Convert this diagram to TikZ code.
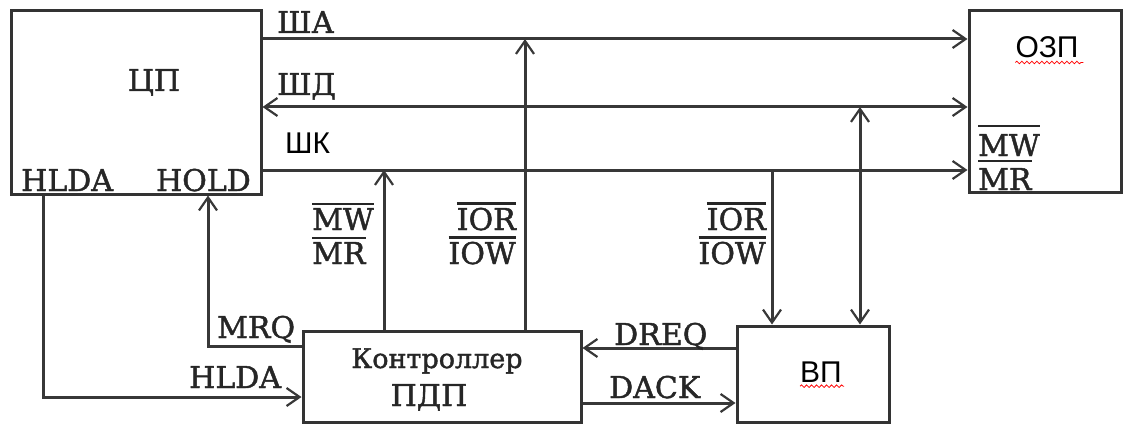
\documentclass[tikz,border=0pt]{standalone}
\usepackage{fontspec}
\setmainfont{DejaVu Serif}[FakeBold=1.5]
\newfontfamily\sansf{Liberation Sans}
\usetikzlibrary{arrows.meta,decorations.pathmorphing}
\newcommand\ovl[2][3pt]{\vbox{\hrule height 2.4pt\kern #1\hbox{#2}}}
\tikzset{
  box/.style={draw=black!80, line width=3pt, inner sep=0pt},
  lbl/.style={inner sep=0pt, font=\fontsize{30}{32}\selectfont, text=black!85},
  slbl/.style={inner sep=0pt, font=\sansf\fontsize{30}{32}\selectfont},
  conn/.style={line width=3pt, draw=black!78},
  arr/.style={conn, -{Straight Barb[length=13pt,width=18pt,line width=2.2pt]}},
  darr/.style={conn, {Straight Barb[length=13pt,width=18pt,line width=2.2pt]}-{Straight Barb[length=13pt,width=18pt,line width=2.2pt]}},
  wavy/.style={draw=red, line width=0.8pt, decorate, decoration={snake, amplitude=1.3pt, segment length=5pt}}
}
\begin{document}
\begin{tikzpicture}[x=1pt,y=-1pt]
\useasboundingbox (0,0) rectangle (1123,425);
% boxes
\node[box, minimum width=250pt, minimum height=183pt] (cpu) at (136,102.5) {};
\node[box, minimum width=152pt, minimum height=181pt] (ozp) at (1045,101.5) {};
\node[box, minimum width=278pt, minimum height=91pt] (ctrl) at (442,376.5) {};
\node[box, minimum width=152pt, minimum height=96pt] (vp) at (813,374) {};
% helper coordinates
\coordinate (ya) at (0,39);
\coordinate (yd) at (0,107);
\coordinate (yk) at (0,170);
\coordinate (xa) at (525,0);
\coordinate (xm) at (384,0);
\coordinate (xi) at (772,0);
\coordinate (xd) at (860,0);
\coordinate (xh) at (208,0);
\coordinate (xl) at (43,0);
\coordinate (ymrq) at (0,346);
\coordinate (yhl) at (0,397);
\coordinate (ydr) at (0,348);
\coordinate (yda) at (0,403);
% buses
\draw[arr] (cpu.east |- ya) -- (ozp.west |- ya);
\draw[darr] (cpu.east |- yd) -- (ozp.west |- yd);
\draw[arr] (cpu.east |- yk) -- (ozp.west |- yk);
% verticals
\draw[arr] (ctrl.north -| xa) -- (xa |- ya);
\draw[arr] (ctrl.north -| xm) -- (xm |- yk);
\draw[arr] (xi |- yk) -- (vp.north -| xi);
\draw[darr] (xd |- yd) -- (vp.north -| xd);
% control lines
\draw[arr] (ctrl.west |- ymrq) -- (xh |- ymrq) -- (cpu.south -| xh);
\draw[arr] (cpu.south -| xl) -- (xl |- yhl) -- (ctrl.west |- yhl);
\draw[arr] (vp.west |- ydr) -- (ctrl.east |- ydr);
\draw[arr] (ctrl.east |- yda) -- (vp.west |- yda);
% texts
\node[lbl, anchor=base] (tcpu) at (154,91) {ЦП};
\node[lbl, anchor=base west] (tsha) at (277,33) {ША};
\node[lbl, anchor=base west] (tshd) at (277,95) {ШД};
\node[slbl, anchor=base west] (tshk) at (285,153) {ШК};
\node[lbl, anchor=base west] (thlda1) at (21,191) {HLDA};
\node[lbl, anchor=base east] (thold) at (251,191) {HOLD};
\node[lbl, anchor=base west] (tmw1) at (312,230) {\ovl{MW}};
\node[lbl, anchor=base west] (tmr1) at (312,264) {\ovl{MR}};
\node[lbl, anchor=base east] (tior1) at (516,230) {\ovl{IOR}};
\node[lbl, anchor=base east] (tiow1) at (516,264) {\ovl{IOW}};
\node[lbl, anchor=base east] (tior2) at (766,230) {\ovl{IOR}};
\node[lbl, anchor=base east] (tiow2) at (766,264) {\ovl{IOW}};
\node[lbl, anchor=base west] (tmrq) at (217,338) {MRQ};
\node[lbl, anchor=base west] (thlda2) at (189,388) {HLDA};
\node[lbl, anchor=base west] (tdreq) at (614,345) {DREQ};
\node[lbl, anchor=base west] (tdack) at (609,398) {DACK};
\node[lbl, anchor=base, font=\fontsize{27}{29}\selectfont] (tctrl) at (437,368) {Контроллер};
\node[lbl, anchor=base] (tpdp) at (429,406) {ПДП};
\node[slbl, anchor=base] (tozp) at (1047,58) {ОЗП};
\node[slbl, anchor=base] (tvp) at (821,382) {ВП};
\node[lbl, anchor=base west] (tmw3) at (978,156) {\ovl[7pt]{MW}};
\node[lbl, anchor=base west] (tmr3) at (978,190) {\ovl[6pt]{MR}};
\draw[wavy] (tozp.south west) ++(0,4) -- ++(68,0);
\draw[wavy] (tvp.south west) ++(0,4) -- ++(44,0);
\end{tikzpicture}
\end{document}
